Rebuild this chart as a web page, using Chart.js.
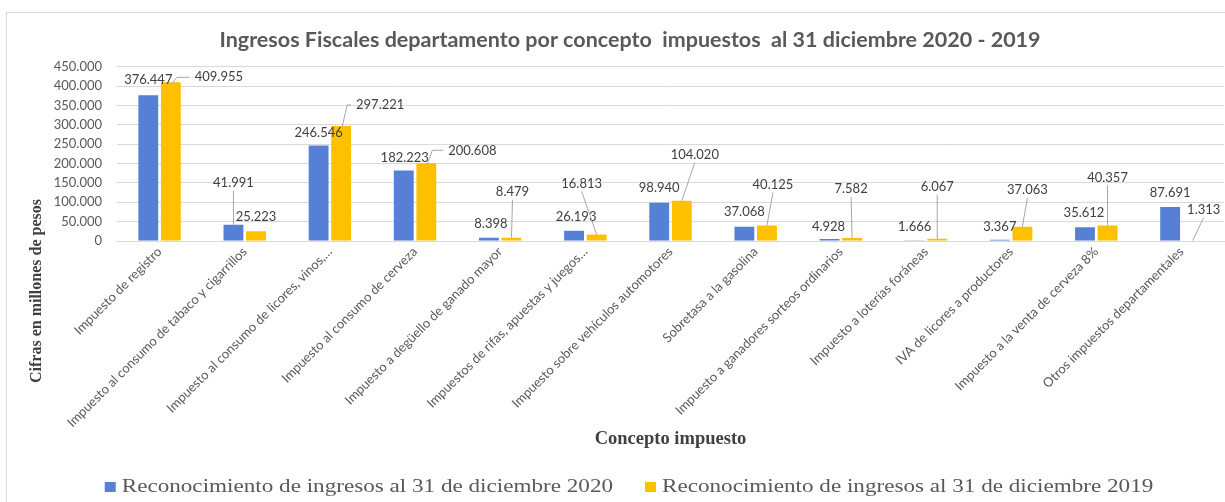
<!DOCTYPE html>
<html>
<head>
<meta charset="utf-8">
<script src="https://cdn.jsdelivr.net/npm/chart.js@4.4.1/dist/chart.umd.min.js"></script>
<style>
  html, body { margin: 0; padding: 0; background: #fff; }
  #wrap { width: 1225px; height: 502px; }
</style>
</head>
<body>
<div id="wrap"><canvas id="ingresosChart" width="1225" height="502"></canvas></div>
<script>
const titleText = 'Ingresos Fiscales departamento por concepto  impuestos  al 31 diciembre 2020 - 2019';
const categories = [
    'Impuesto de registro',
    'Impuesto al consumo de tabaco y cigarrillos',
    'Impuesto al consumo de licores, vinos,…',
    'Impuesto al consumo de cerveza',
    'Impuesto a degüello de ganado mayor',
    'Impuestos de rifas, apuestas y juegos…',
    'Impuesto sobre vehículos automotores',
    'Sobretasa a la gasolina',
    'Impuesto a ganadores sorteos ordinarios',
    'Impuesto a loterías foráneas',
    'IVA de licores a productores',
    'Impuesto a la venta de cerveza 8%',
    'Otros impuestos departamentales'
];
const seriesNames = [
    'Reconocimiento de ingresos al 31 de diciembre 2020',
    'Reconocimiento de ingresos al 31 de diciembre 2019'
];
const values2020 = [376447, 41991, 246546, 182223, 8398, 26193, 98940, 37068, 4928, 1666, 3367, 35612, 87691];
const values2019 = [409955, 25223, 297221, 200608, 8479, 16813, 104020, 40125, 7582, 6067, 37063, 40357, 1313];
const yMax = 450000;
const yStep = 50000;

const blue = '#5580d6';
const gold = '#ffc000';
const serif = '"Liberation Serif", "Times New Roman", serif';

// where each value label sits, relative to the top centre of its bar (px)
const labelOffsets = [
    [[0,-15],[0,-42],[0,-13],[1,-13],[2,-14],[2,-14],[0,-15],[0,-15],[-1,-12],[0,-14],[0,-13],[-1,-14],[0,-14]],
    [[48,-5],[0,-14],[39,-21],[46,-13],[1,-46],[-15,-51],[13,-46],[6,-41],[-1,-49],[0,-52],[5,-37],[0,-48],[11,-31]]
];

function fmt(n) {
    return String(n).replace(/\B(?=(\d{3})+(?!\d))/g, '.');
}

const frame = {
    id: 'frame',
    beforeDraw(chart) {
        const c = chart.ctx;
        c.save();
        c.strokeStyle = '#d9d9d9';
        c.lineWidth = 1;
        c.strokeRect(6.5, 12.5, 1240, 520);
        c.restore();
    }
};

// y title sits lower than chart.js would put it, so it is drawn by hand
const yTitle = {
    id: 'yTitle',
    afterDraw(chart) {
        const c = chart.ctx;
        c.save();
        c.translate(37, 291);
        c.rotate(-Math.PI / 2);
        c.font = 'bold 16px ' + serif;
        c.fillStyle = '#404040';
        c.textAlign = 'center';
        c.textBaseline = 'middle';
        c.fillText('Cifras en millones de pesos', 0, 0);
        c.restore();
    }
};

// legend drawn by hand: Excel's text here is stretched wide
const bottomLegend = {
    id: 'bottomLegend',
    afterDraw(chart) {
        const c = chart.ctx;
        const sx = 1.25;
        c.save();
        c.font = '18.5px ' + serif;
        c.textBaseline = 'middle';
        const gap = 32;
        const widths = chart.data.datasets.map(ds => 17 + c.measureText(ds.label).width * sx);
        const total = widths.reduce((a, b) => a + b, 0) + gap * (widths.length - 1);
        let x = 629 - total / 2;
        const y = 487;
        chart.data.datasets.forEach((ds, i) => {
            c.fillStyle = ds.backgroundColor;
            c.fillRect(x, y - 5, 11, 10);
            c.save();
            c.translate(x + 17, y);
            c.scale(sx, 1);
            c.fillStyle = '#595959';
            c.fillText(ds.label, 0, 0);
            c.restore();
            x += widths[i] + gap;
        });
        c.restore();
    }
};

const barLabels = {
    id: 'barLabels',
    afterDatasetsDraw(chart) {
        const c = chart.ctx;
        c.save();
        c.font = '13px Lato, sans-serif';
        c.textAlign = 'center';
        c.textBaseline = 'middle';
        chart.data.datasets.forEach((ds, di) => {
            const meta = chart.getDatasetMeta(di);
            meta.data.forEach((bar, i) => {
                const [dx, dy] = labelOffsets[di][i];
                const lx = bar.x + dx, ly = bar.y + dy;
                const text = fmt(ds.data[i]);
                const w = c.measureText(text).width;
                c.strokeStyle = '#a6a6a6';
                c.lineWidth = 1;
                c.beginPath();
                if (dx > 30) {
                    // elbow leader to a label sitting on the right
                    c.moveTo(bar.x + 1, bar.y + 1);
                    c.lineTo(bar.x + 6, ly);
                    c.lineTo(lx - w / 2 - 5, ly);
                    c.stroke();
                } else if (dy < -25) {
                    c.moveTo(lx, ly + 8);
                    c.lineTo(bar.x, bar.y);
                    c.stroke();
                }
                c.fillStyle = '#404040';
                c.fillText(text, lx, ly);
            });
        });
        c.restore();
    }
};

const ctx = document.getElementById('ingresosChart').getContext('2d');
const ingresosChart = new Chart(ctx, {
    type: 'bar',
    data: {
        labels: categories,
        datasets: [{
            label: seriesNames[0],
            data: values2020,
            backgroundColor: blue,
            categoryPercentage: 0.53,
            barPercentage: 0.88
        }, {
            label: seriesNames[1],
            data: values2019,
            backgroundColor: gold,
            categoryPercentage: 0.53,
            barPercentage: 0.88
        }]
    },
    options: {
        responsive: false,
        animation: false,
        layout: { padding: { left: 36, right: 1, top: 0, bottom: 52 } },
        plugins: {
            title: {
                display: true,
                text: titleText,
                color: '#595959',
                font: { family: 'Lato', size: 21.5, weight: 'bold' },
                padding: { top: 27, bottom: 14 }
            },
            legend: { display: false },
            tooltip: { enabled: false }
        },
        scales: {
            x: {
                grid: { display: false, drawTicks: false },
                border: { color: '#d9d9d9' },
                ticks: {
                    color: '#595959',
                    font: { family: 'Lato', size: 13 },
                    minRotation: 45,
                    maxRotation: 45,
                    autoSkip: false,
                    padding: 3
                },
                title: {
                    display: true,
                    text: 'Concepto impuesto',
                    color: '#404040',
                    font: { family: serif, size: 18.5, weight: 'bold' },
                    padding: { top: 0, bottom: 0 }
                },
                afterFit: s => { s.height = 209; }
            },
            y: {
                min: 0,
                max: yMax,
                grid: { color: '#d9d9d9', drawTicks: false },
                border: { display: false },
                ticks: {
                    stepSize: yStep,
                    color: '#595959',
                    font: { family: 'Lato', size: 13 },
                    padding: 15,
                    callback: v => fmt(v)
                },
                afterFit: s => { s.width = 81; }
            }
        }
    },
    plugins: [frame, yTitle, bottomLegend, barLabels]
});
</script>
</body>
</html>
